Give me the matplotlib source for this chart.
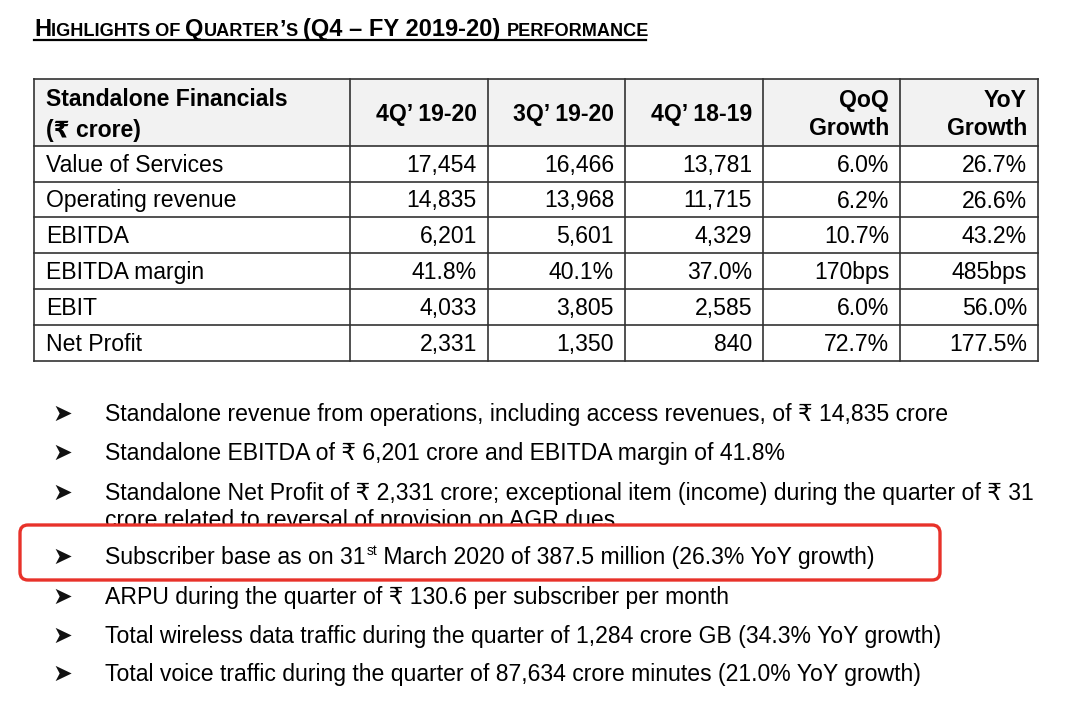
import matplotlib.pyplot as plt
from matplotlib.patches import FancyBboxPatch, Rectangle

plt.rcParams['font.family'] = ['Liberation Sans', 'DejaVu Sans']

# small caps title: (text, is_capital)
title_parts = [("H", 1), ("IGHLIGHTS OF ", 0), ("Q", 1), ("UARTER", 0), ("’", 1),
               ("S ", 0), ("(Q4 – FY 2019-20) ", 1), ("PERFORMANCE", 0)]

header_left = ["Standalone Financials", "(₹ crore)"]
col_heads = [["4Q’ 19-20"], ["3Q’ 19-20"], ["4Q’ 18-19"], ["QoQ", "Growth"], ["YoY", "Growth"]]
row_labels = ["Value of Services", "Operating revenue", "EBITDA", "EBITDA margin", "EBIT", "Net Profit"]
q4_1920 = ["17,454", "14,835", "6,201", "41.8%", "4,033", "2,331"]
q3_1920 = ["16,466", "13,968", "5,601", "40.1%", "3,805", "1,350"]
q4_1819 = ["13,781", "11,715", "4,329", "37.0%", "2,585", "840"]
qoq = ["6.0%", "6.2%", "10.7%", "170bps", "6.0%", "72.7%"]
yoy = ["26.7%", "26.6%", "43.2%", "485bps", "56.0%", "177.5%"]

bullets = [
    "Standalone revenue from operations, including access revenues, of ₹ 14,835 crore",
    "Standalone EBITDA of ₹ 6,201 crore and EBITDA margin of 41.8%",
    "Standalone Net Profit of ₹ 2,331 crore; exceptional item (income) during the quarter of ₹ 31",
    "crore related to reversal of provision on AGR dues",
    ["Subscriber base as on 31", "st", " March 2020 of 387.5 million (26.3% YoY growth)"],
    "ARPU during the quarter of ₹ 130.6 per subscriber per month",
    "Total wireless data traffic during the quarter of 1,284 crore GB (34.3% YoY growth)",
    "Total voice traffic during the quarter of 87,634 crore minutes (21.0% YoY growth)",
]
bullet_base = [421, 460, 500, 527, 564, 604, 643, 681]
has_arrow = [1, 1, 1, 0, 1, 1, 1, 1]

fig = plt.figure(figsize=(10.8, 7.13), dpi=100)
ax = fig.add_axes([0, 0, 1, 1])
ax.set_xlim(0, 1080)
ax.set_ylim(713, 0)
ax.axis('off')
r = fig.canvas.get_renderer()

# titulo em versalete, sublinhado
x = 34
for s, cap in title_parts:
    t = ax.text(x, 36, s, fontsize=17 if cap else 13.1, fontweight='bold', va='baseline')
    x += t.get_window_extent(r).width
ax.plot([34, x - 4], [39.5, 39.5], color='black', lw=1.6)

# tabela
col_x = [34, 350, 488, 625, 763, 900, 1038]
row_y = [79, 146, 182, 217, 253, 289, 325, 361]
ax.add_patch(Rectangle((col_x[0], row_y[0]), col_x[-1] - col_x[0], row_y[1] - row_y[0],
                       facecolor='#f2f2f2', edgecolor='none', zorder=0))
for yy in row_y:
    ax.plot([col_x[0], col_x[-1]], [yy, yy], color='#333333', lw=1.2)
for xx in col_x:
    ax.plot([xx, xx], [row_y[0], row_y[-1]], color='#333333', lw=1.2)

fs = 16.6
ax.text(46, 106, header_left[0], fontsize=fs, fontweight='bold', va='baseline')
ax.text(46, 137, header_left[1], fontsize=fs, fontweight='bold', va='baseline')
for i, head in enumerate(col_heads):
    xr = col_x[i + 2] - 11
    if len(head) == 1:
        ax.text(xr, 121, head[0], fontsize=fs, fontweight='bold', ha='right', va='baseline')
    else:
        ax.text(xr, 107, head[0], fontsize=fs, fontweight='bold', ha='right', va='baseline')
        ax.text(xr, 135, head[1], fontsize=fs, fontweight='bold', ha='right', va='baseline')

columns = [q4_1920, q3_1920, q4_1819, qoq, yoy]
for j, lab in enumerate(row_labels):
    yb = (row_y[j + 1] + row_y[j + 2]) / 2 + 8
    ax.text(46, yb, lab, fontsize=fs, va='baseline')
    for i, col in enumerate(columns):
        ax.text(col_x[i + 2] - 11, yb, col[j], fontsize=fs, ha='right', va='baseline')

# marcadores
for k, (b, yb) in enumerate(zip(bullets, bullet_base)):
    if has_arrow[k]:
        ax.text(52, yb - 7.5, "➤", fontsize=17, va='center', color='#111111',
                family=['DejaVu Sans'])
    if isinstance(b, list):
        x = 105
        t = ax.text(x, yb, b[0], fontsize=fs, va='baseline')
        x += t.get_window_extent(r).width + 1
        t = ax.text(x, yb - 9, b[1], fontsize=10, va='baseline')
        x += t.get_window_extent(r).width
        ax.text(x, yb, b[2], fontsize=fs, va='baseline')
    else:
        ax.text(105, yb, b, fontsize=fs, va='baseline', zorder=1)

# caixa vermelha de destaque (cobre a linha cortada)
ax.add_patch(FancyBboxPatch((20, 525), 920, 55, boxstyle="round,pad=0,rounding_size=8",
                            facecolor='none', edgecolor='#e8322a', lw=2.4, zorder=4))
ax.add_patch(Rectangle((21, 526), 918, 20, facecolor='white', edgecolor='none', zorder=2))

plt.savefig('out.png', dpi=100)
